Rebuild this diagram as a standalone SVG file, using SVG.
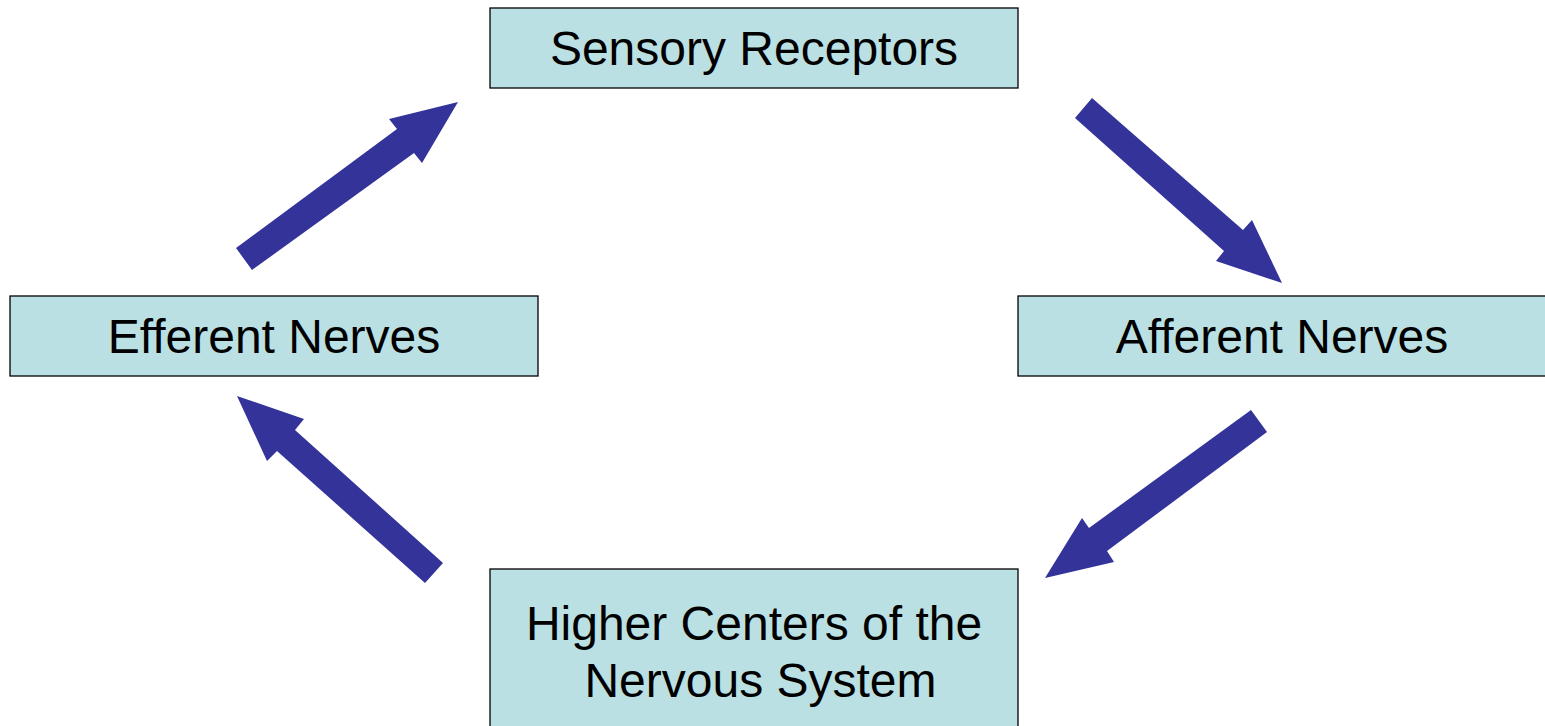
<svg xmlns="http://www.w3.org/2000/svg" width="1545" height="726" viewBox="0 0 1545 726">
<style>
.box{fill:#BBE0E3;stroke:#000;stroke-width:1.3}
.lbl{font-family:"Liberation Sans",Arial,sans-serif;font-size:48px;fill:#000;text-anchor:middle}
.arr{fill:#333399;stroke:none}
</style>
<rect width="1545" height="726" fill="#fff"/>
<g id="sensory">
<rect class="box" x="490" y="8" width="528" height="80"/>
<text class="lbl" x="754" y="65">Sensory Receptors</text>
</g>
<g id="efferent">
<rect class="box" x="10" y="296" width="528" height="80"/>
<text class="lbl" x="274" y="353">Efferent Nerves</text>
</g>
<g id="afferent">
<rect class="box" x="1018" y="296" width="528" height="80"/>
<text class="lbl" x="1282" y="353">Afferent Nerves</text>
</g>
<g id="higher">
<rect class="box" x="490" y="569" width="528" height="170"/>
<text class="lbl" x="754" y="640">Higher Centers of the</text>
<text class="lbl" x="760.5" y="697">Nervous System</text>
</g>
<g id="connectors">
<polygon class="arr" points="236,248 252,270 414,153 422,163 458,102 389,119 397,129"/>
<polygon class="arr" points="1075,118 1092,98 1243,230 1252,220 1282,283 1216,261 1224,251"/>
<polygon class="arr" points="1251,410 1267,432 1107,551 1114,562 1045,578 1082,518 1089,528"/>
<polygon class="arr" points="443,563 425,583 277,451 267,461 237,396 304,419 295,430"/>
</g>
</svg>
